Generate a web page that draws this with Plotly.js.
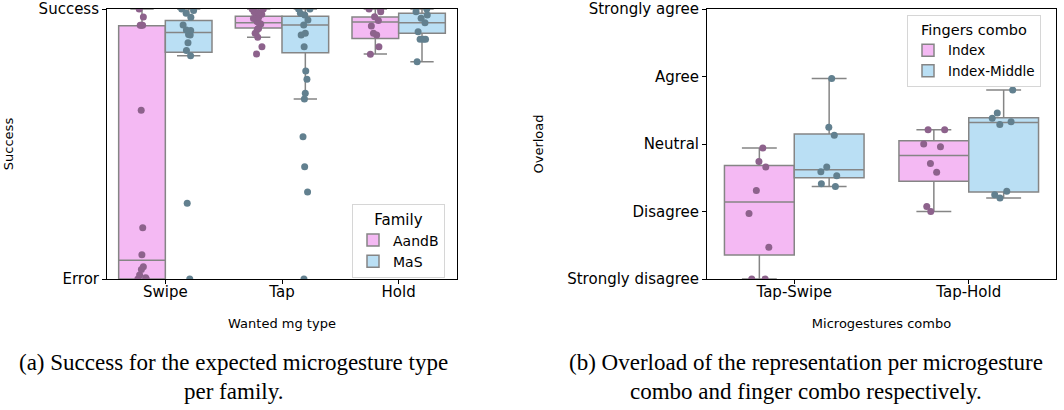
<!DOCTYPE html>
<html>
<head>
<meta charset="utf-8">
<script src="https://cdn.plot.ly/plotly-3.0.1.min.js"></script>
<style>html,body{margin:0;padding:0;background:#fff;}#chart{width:1064px;height:410px;}</style>
</head>
<body>
<div id="chart"></div>
<script>
// ---------- Data: left panel (success per wanted microgesture type) ----------
const leftCats = ['Swipe', 'Tap', 'Hold'];
const leftTickVals = [0, 1];
const leftTickText = ['Error', 'Success'];

// box statistics
const aandbQ1     = [0.000, 0.930, 0.891];
const aandbMedian = [0.069, 0.949, 0.952];
const aandbQ3     = [0.938, 0.973, 0.970];
const aandbLower  = [0.000, 0.895, 0.833];
const aandbUpper  = [1.000, 1.000, 1.000];

const masQ1     = [0.840, 0.838, 0.910];
const masMedian = [0.913, 0.941, 0.949];
const masQ3     = [0.957, 0.973, 0.984];
const masLower  = [0.827, 0.667, 0.805];
const masUpper  = [1.000, 1.000, 1.000];

// individual points
const aandbSwipe = [1.0, 0.97, 0.94, 0.94, 0.94, 0.625, 0.19, 0.09, 0.045, 0.035, 0.015, 0.005, 0, 0];
const aandbTap   = [1.0, 1.0, 0.99, 0.986, 0.981, 0.981, 0.969, 0.965, 0.953, 0.947, 0.944, 0.928, 0.925, 0.91, 0.895, 0.86, 0.833];
const aandbHold  = [1.0, 1.0, 0.99, 0.971, 0.957, 0.937, 0.91, 0.904, 0.86, 0.832];
const masSwipe   = [1.0, 0.994, 0.984, 0.969, 0.941, 0.922, 0.920, 0.906, 0.904, 0.875, 0.846, 0.827, 0.281, 0];
const masTap     = [1.0, 1.0, 0.984, 0.978, 0.959, 0.941, 0.91, 0.904, 0.86, 0.77, 0.74, 0.688, 0.667, 0.527, 0.416, 0.322, 0];
const masHold    = [1.0, 0.99, 0.978, 0.966, 0.949, 0.916, 0.888, 0.888, 0.888, 0.805];

// ---------- Data: right panel (overload per microgesture combo) ----------
const rightCats = ['Tap-Swipe', 'Tap-Hold'];
const rightTickVals = [1, 2, 3, 4, 5];
const rightTickText = ['Strongly disagree', 'Disagree', 'Neutral', 'Agree', 'Strongly agree'];

const indexQ1     = [1.357, 2.45];
const indexMedian = [2.14, 2.83];
const indexQ3     = [2.68, 3.05];
const indexLower  = [1.00, 2.00];
const indexUpper  = [2.94, 3.21];

const imQ1     = [2.50, 2.29];
const imMedian = [2.62, 3.32];
const imQ3     = [3.15, 3.39];
const imLower  = [2.37, 2.20];
const imUpper  = [3.97, 3.80];

const indexTapSwipe = [2.94, 2.74, 2.66, 2.31, 1.97, 1.47, 1.0, 1.0];
const indexTapHold  = [3.21, 3.21, 3.0, 2.96, 2.71, 2.58, 2.075, 2.0];
const imTapSwipe    = [3.97, 3.25, 3.13, 2.66, 2.59, 2.53, 2.41, 2.37];
const imTapHold     = [3.80, 3.46, 3.38, 3.33, 3.29, 2.30, 2.25, 2.20];

// ---------- Styles ----------
const PINK = '#f4b9f3';
const BLUE = '#badff4';
const PINK_PT = '#8d628c';
const BLUE_PT = '#62808f';
const EDGE = '#858585';
const FONT = 'DejaVu Sans, sans-serif';
const SERIF = 'Liberation Serif, serif';

function statBox(name, cats, q1, med, q3, lo, hi, fill, group, xa, ya, legend) {
  return {
    type: 'box', name: name, x: cats, q1: q1, median: med, q3: q3,
    lowerfence: lo, upperfence: hi, boxpoints: false,
    fillcolor: fill, line: {color: EDGE, width: 1.5}, whiskerwidth: 0.5,
    offsetgroup: group, xaxis: xa, yaxis: ya, legend: legend, hoverinfo: 'skip'
  };
}
function pointBox(cats, lists, color, group, xa, ya) {
  const xs = [], ys = [];
  cats.forEach((c, i) => lists[i].forEach(v => { xs.push(c); ys.push(v); }));
  return {
    type: 'box', x: xs, y: ys, boxpoints: 'all', jitter: 0.35, pointpos: 0,
    fillcolor: 'rgba(0,0,0,0)', line: {width: 0, color: 'rgba(0,0,0,0)'},
    marker: {color: color, size: 7, line: {width: 0}},
    offsetgroup: group, xaxis: xa, yaxis: ya, showlegend: false, hoverinfo: 'y'
  };
}

const traces = [
  statBox('AandB', leftCats, aandbQ1, aandbMedian, aandbQ3, aandbLower, aandbUpper, PINK, 'a', 'x', 'y', 'legend'),
  statBox('MaS', leftCats, masQ1, masMedian, masQ3, masLower, masUpper, BLUE, 'b', 'x', 'y', 'legend'),
  pointBox(leftCats, [aandbSwipe, aandbTap, aandbHold], PINK_PT, 'a', 'x', 'y'),
  pointBox(leftCats, [masSwipe, masTap, masHold], BLUE_PT, 'b', 'x', 'y'),
  statBox('Index', rightCats, indexQ1, indexMedian, indexQ3, indexLower, indexUpper, PINK, 'c', 'x2', 'y2', 'legend2'),
  statBox('Index-Middle', rightCats, imQ1, imMedian, imQ3, imLower, imUpper, BLUE, 'd', 'x2', 'y2', 'legend2'),
  pointBox(rightCats, [indexTapSwipe, indexTapHold], PINK_PT, 'c', 'x2', 'y2'),
  pointBox(rightCats, [imTapSwipe, imTapHold], BLUE_PT, 'd', 'x2', 'y2')
];

const W = 1064, H = 410;
const px = v => v / W, py = v => 1 - v / H;

function xAxis(domain, title, cats) {
  return {
    domain: domain, type: 'category', categoryorder: 'array', categoryarray: cats,
    showline: true, linecolor: '#000', linewidth: 1, mirror: true,
    ticks: 'outside', ticklen: 4, tickcolor: '#000', tickwidth: 1,
    ticklabelstandoff: -5,
    tickfont: {family: FONT, size: 15, color: '#000'},
    title: {text: title, font: {family: FONT, size: 13, color: '#000'}, standoff: 18},
    showgrid: false, zeroline: false, automargin: false, fixedrange: true
  };
}
function yAxis(domain, range, vals, text, title, anchor, standoff) {
  return {
    domain: domain, range: range, tickmode: 'array', tickvals: vals, ticktext: text,
    anchor: anchor,
    showline: true, linecolor: '#000', linewidth: 1, mirror: true,
    ticks: 'outside', ticklen: 4, tickcolor: '#000', tickwidth: 1,
    tickfont: {family: FONT, size: 15, color: '#000'},
    title: {text: title, font: {family: FONT, size: 13, color: '#000'}, standoff: standoff},
    showgrid: false, zeroline: false, automargin: false, fixedrange: true
  };
}

const yDom = [py(279), py(9)];
const capFont = {family: SERIF, size: 23, color: '#000'};
function caption(text, x, y) {
  return {text: text, x: px(x), y: py(y), xref: 'paper', yref: 'paper',
          showarrow: false, xanchor: 'center', yanchor: 'middle', font: capFont};
}
const layout = {
  width: W, height: H,
  margin: {l: 0, r: 0, t: 0, b: 0},
  paper_bgcolor: '#fff', plot_bgcolor: '#fff',
  boxmode: 'group', boxgap: 0.2, boxgroupgap: 0,
  font: {family: FONT, color: '#000'},
  xaxis: Object.assign(xAxis([px(107), px(457)], 'Wanted mg type', leftCats), {anchor: 'y'}),
  yaxis: yAxis(yDom, [0, 1], leftTickVals, leftTickText, 'Success', 'x', 22),
  xaxis2: Object.assign(xAxis([px(707), px(1056)], 'Microgestures combo', rightCats), {anchor: 'y2'}),
  yaxis2: yAxis(yDom, [1, 5], rightTickVals, rightTickText, 'Overload', 'x2', 20),
  legend: {
    x: px(352), y: py(204), xanchor: 'left', yanchor: 'top',
    bgcolor: 'rgba(255,255,255,0.8)', bordercolor: '#d6d6d6', borderwidth: 1,
    font: {family: FONT, size: 14, color: '#000'},
    title: {text: 'Family', side: 'top center', font: {family: FONT, size: 15, color: '#000'}},
    itemwidth: 30, tracegroupgap: 0
  },
  legend2: {
    x: px(907), y: py(15), xanchor: 'left', yanchor: 'top',
    bgcolor: 'rgba(255,255,255,0.8)', bordercolor: '#d6d6d6', borderwidth: 1,
    font: {family: FONT, size: 13.5, color: '#000'},
    title: {text: 'Fingers combo', side: 'top center', font: {family: FONT, size: 14.5, color: '#000'}},
    itemwidth: 30, tracegroupgap: 0
  },
  showlegend: true,
  annotations: [
    caption('(a) Success for the expected microgesture type', 233, 362),
    caption('per family.', 233, 391),
    caption('(b) Overload of the representation per microgesture', 806, 362),
    caption('combo and finger combo respectively.', 806, 391)
  ]
};

Plotly.newPlot('chart', traces, layout, {displayModeBar: false, staticPlot: true});
</script>
</body>
</html>
